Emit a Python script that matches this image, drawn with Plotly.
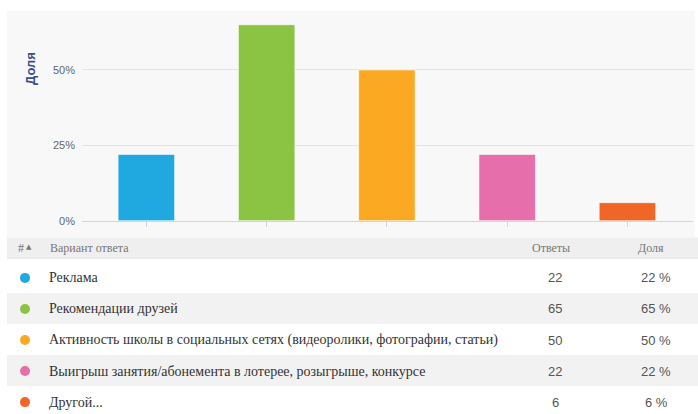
import plotly.graph_objects as go

# ---- data ----
categories = ["Реклама", "Рекомендации друзей",
              "Активность школы в социальных сетях (видеоролики, фотографии, статьи)",
              "Выигрыш занятия/абонемента в лотерее, розыгрыше, конкурсе",
              "Другой..."]
answers = [22, 65, 50, 22, 6]
shares = [22, 65, 50, 22, 6]
colors = ["#1fa9e0", "#8bc443", "#fba922", "#e66fab", "#ef6626"]
y_tickvals = [0, 25, 50]
y_ticktext = ["0%", "25%", "50%"]
axis_title = "Доля"
header = ["#▲", "Вариант ответа", "Ответы", "Доля"]

W, H = 698, 414

def py(v):  # pixel y -> paper
    return 1 - v / H

def px(v):
    return v / W

fig = go.Figure()

fig.add_trace(go.Bar(
    x=list(range(len(categories))), y=shares,
    marker=dict(color=colors, line=dict(color="rgba(255,255,255,0.6)", width=1)),
    width=0.47, hoverinfo="skip", showlegend=False,
    xaxis="x", yaxis="y",
))

row_y0, row_step = 282, 31.5
row_ys = [row_y0 + i * row_step for i in range(len(categories))]
fig.add_trace(go.Scatter(
    x=[25] * len(categories), y=row_ys, mode="markers",
    marker=dict(color=colors, size=10, line=dict(width=0)),
    hoverinfo="skip", showlegend=False, xaxis="x2", yaxis="y2", cliponaxis=False,
))

shapes = []
shapes.append(dict(type="rect", xref="paper", yref="paper",
                   x0=px(7), x1=px(695), y0=py(241), y1=py(11),
                   fillcolor="#f8f8f8", line=dict(width=0), layer="below"))
shapes.append(dict(type="rect", xref="paper", yref="paper",
                   x0=px(7), x1=px(698), y0=py(262), y1=py(241),
                   fillcolor="#efefef", line=dict(width=0), layer="below"))
shapes.append(dict(type="line", xref="paper", yref="paper",
                   x0=px(7), x1=px(698), y0=py(262), y1=py(262),
                   line=dict(color="#e2e2e2", width=1), layer="below"))
for i in range(len(categories)):
    if i % 2 == 1:
        top = row_ys[i] - row_step / 2 - 0.5
        shapes.append(dict(type="rect", xref="paper", yref="paper",
                           x0=px(7), x1=px(698), y0=py(top + row_step), y1=py(top),
                           fillcolor="#f2f2f2", line=dict(width=0), layer="below"))

SERIF = "Liberation Serif, Times New Roman, serif"
SANS = "Liberation Sans, Arial, sans-serif"

annotations = []
annotations.append(dict(text=f"<b>{axis_title}</b>", xref="paper", yref="paper",
                        x=px(31), y=py(70), textangle=-90, showarrow=False,
                        font=dict(family=SANS, size=13, color="#33518a"),
                        xanchor="center", yanchor="middle"))
hfont = dict(family=SERIF, size=12, color="#777777")
annotations.append(dict(text="#", x=16, y=252, xref="x2", yref="y2", showarrow=False,
                        xanchor="left", yanchor="middle", font=hfont))
annotations.append(dict(text="▲", x=23.5, y=251, xref="x2", yref="y2", showarrow=False,
                        xanchor="left", yanchor="middle",
                        font=dict(family="DejaVu Sans", size=7, color="#777777")))
annotations.append(dict(text=header[1], x=48, y=252, xref="x2", yref="y2", showarrow=False,
                        xanchor="left", yanchor="middle", font=hfont))
annotations.append(dict(text=header[2], x=551, y=252, xref="x2", yref="y2", showarrow=False,
                        xanchor="center", yanchor="middle", font=hfont))
annotations.append(dict(text=header[3], x=651, y=252, xref="x2", yref="y2", showarrow=False,
                        xanchor="center", yanchor="middle", font=hfont))
for i, (c, a, s) in enumerate(zip(categories, answers, shares)):
    yy = row_ys[i]
    annotations.append(dict(text=c, x=47, y=yy, xref="x2", yref="y2", showarrow=False,
                            xanchor="left", yanchor="middle",
                            font=dict(family=SERIF, size=14, color="#333333")))
    annotations.append(dict(text=str(a), x=555, y=yy, xref="x2", yref="y2", showarrow=False,
                            xanchor="center", yanchor="middle",
                            font=dict(family=SANS, size=13, color="#555555")))
    annotations.append(dict(text=f"{s} %", x=656, y=yy, xref="x2", yref="y2", showarrow=False,
                            xanchor="center", yanchor="middle",
                            font=dict(family=SANS, size=13, color="#555555")))

fig.update_layout(
    width=W, height=H, autosize=False,
    margin=dict(l=0, r=0, t=0, b=0),
    paper_bgcolor="white", plot_bgcolor="rgba(0,0,0,0)",
    xaxis=dict(domain=[px(82), px(693)], range=[-0.535, 4.545], anchor="y",
               showgrid=False, zeroline=False, showline=True, linecolor="#ccd6eb", linewidth=1,
               ticks="outside", ticklen=5, tickcolor="#ccd6eb", tickwidth=1,
               tickvals=list(range(len(categories))), showticklabels=False, fixedrange=True),
    yaxis=dict(domain=[py(224), py(11)], range=[0, 69.6], anchor="x",
               tickvals=y_tickvals, ticktext=y_ticktext,
               showgrid=True, gridcolor="#e4e4e4", gridwidth=1, zeroline=False,
               ticks="", ticklabelstandoff=6,
               tickfont=dict(family=SANS, size=11, color="#666666"),
               fixedrange=True),
    xaxis2=dict(domain=[0, 1], range=[0, W], visible=False, anchor="y2", fixedrange=True),
    yaxis2=dict(domain=[0, 1], range=[H, 0], visible=False, anchor="x2", fixedrange=True),
    shapes=shapes, annotations=annotations,
)

fig.write_html(
    "out.html", config={"displayModeBar": False, "staticPlot": True},
    post_script=(
        "var s=document.createElement('style');"
        "s.textContent='html,body{margin:0;padding:0;overflow:hidden;height:414px;}';"
        "document.head.appendChild(s);"
    ),
)
